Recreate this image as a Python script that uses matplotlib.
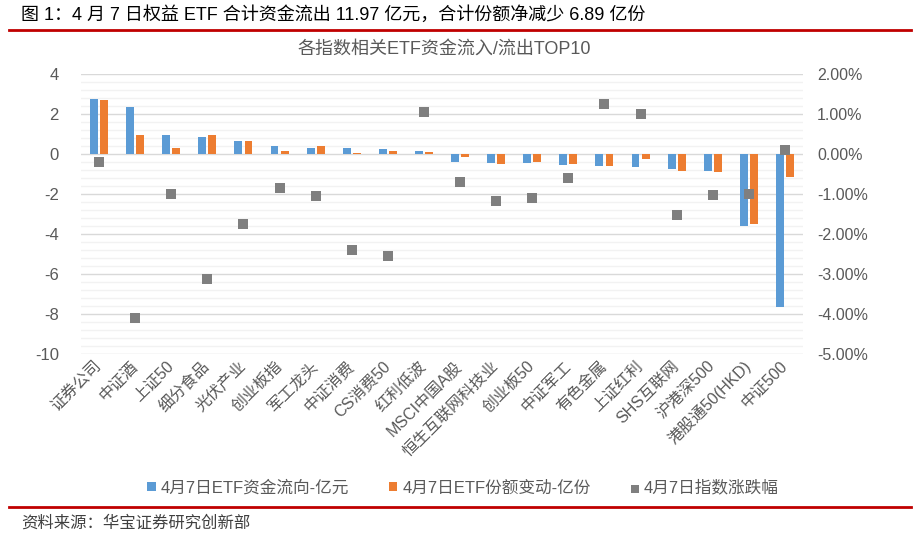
import numpy as np
import matplotlib.pyplot as plt
from matplotlib.lines import Line2D
from matplotlib.ticker import FuncFormatter

plt.rcParams['font.family'] = ['Liberation Sans', 'Noto Sans CJK SC', 'DejaVu Sans']
plt.rcParams['axes.unicode_minus'] = False

# ── 数据 ──
categories = ['证券公司', '中证酒', '上证50', '细分食品', '光伏产业', '创业板指', '军工龙头',
              '中证消费', 'CS消费50', '红利低波', 'MSCI中国A股', '恒生互联网科技业', '创业板50',
              '中证军工', '有色金属', '上证红利', 'SHS互联网', '沪港深500', '港股通50(HKD)', '中证500']
flow = [2.77, 2.37, 0.97, 0.87, 0.67, 0.42, 0.32, 0.32, 0.27, 0.17,
        -0.38, -0.43, -0.43, -0.53, -0.58, -0.63, -0.73, -0.83, -3.62, -7.63]      # 亿元
share = [2.72, 0.97, 0.32, 0.97, 0.67, 0.17, 0.42, 0.07, 0.17, 0.12,
         -0.13, -0.48, -0.38, -0.48, -0.58, -0.23, -0.83, -0.88, -3.48, -1.13]      # 亿份
pct = [-0.20, -4.10, -1.00, -3.12, -1.75, -0.85, -1.05, -2.40, -2.55, 1.05,
       -0.70, -1.18, -1.10, -0.60, 1.25, 1.00, -1.52, -1.02, -1.00, 0.10]          # %
series_names = ['4月7日ETF资金流向-亿元', '4月7日ETF份额变动-亿份', '4月7日指数涨跌幅']

BLUE, ORANGE, GREY = '#5b9bd5', '#ed7d31', '#7f7f7f'
TXT = '#595959'
W, H = 914, 542

fig = plt.figure(figsize=(W / 100, H / 100), dpi=100)
ax = fig.add_axes([81 / W, 1 - 354 / H, 722 / W, 280 / H])
ax2 = ax.twinx()

x = np.arange(len(categories))
b1 = ax.bar(x - 0.14, flow, width=0.22, color=BLUE, zorder=2)
b2 = ax.bar(x + 0.14, share, width=0.22, color=ORANGE, zorder=2)
sc = ax2.scatter(x, pct, marker='s', s=44, color=GREY, linewidths=0, zorder=3)

# 坐标轴
ax.set_xlim(-0.5, len(categories) - 0.5)
ax.set_ylim(-10, 4)
ax.set_yticks(np.arange(-10, 4.01, 2))
ax.set_yticks(np.arange(-10, 4.01, 0.4), minor=True)
ax.grid(which='minor', axis='y', color='#f2f2f2', lw=1, zorder=0)
ax.grid(which='major', axis='y', color='#d9d9d9', lw=1, zorder=0)
ax.set_axisbelow(True)
ax2.set_ylim(-5, 2)
ax2.set_yticks(np.arange(-5, 2.01, 1))
ax2.yaxis.set_major_formatter(FuncFormatter(lambda v, p: f'{v:.2f}%'))

ax.set_xticks(x)
ax.set_xticklabels(categories, rotation=45, ha='right', va='center',
                   rotation_mode='anchor', fontsize=11.5, color=TXT)
ax.tick_params(axis='x', length=0, pad=7)
ax.tick_params(axis='y', which='both', length=0, pad=16, labelsize=12, labelcolor=TXT)
ax2.tick_params(axis='y', length=0, pad=10, labelsize=11.5, labelcolor=TXT)
for a in (ax, ax2):
    for s in a.spines.values():
        s.set_visible(False)

# 标题、红线、来源
fig.text(21 / W, 1 - 14.5 / H, '图 1：4 月 7 日权益 ETF 合计资金流出 11.97 亿元，合计份额净减少 6.89 亿份',
         fontsize=13, ha='left', va='center', color='black')
fig.add_artist(Line2D([9 / W, 911 / W], [1 - 29.5 / H] * 2, color='#c00000', lw=2))
fig.text(444 / W, 1 - 49 / H, '各指数相关ETF资金流入/流出TOP10',
         fontsize=13, ha='center', va='center', color=TXT)
fig.add_artist(Line2D([9 / W, 911 / W], [1 - 507 / H] * 2, color='#c00000', lw=2))
fig.text(21 / W, 1 - 523 / H, '资料来源：华宝证券研究创新部',
         fontsize=11.8, ha='left', va='center', color='#404040')

# 图例
fig.legend([b1, b2, sc], series_names, loc='center', bbox_to_anchor=(463 / W, 1 - 487.5 / H),
           ncol=3, frameon=False, fontsize=12, labelcolor=TXT,
           handlelength=0.5, handleheight=0.5, handletextpad=0.3, columnspacing=2.4,
           markerscale=0.85)

fig.savefig('out.png', dpi=100, facecolor='white')
